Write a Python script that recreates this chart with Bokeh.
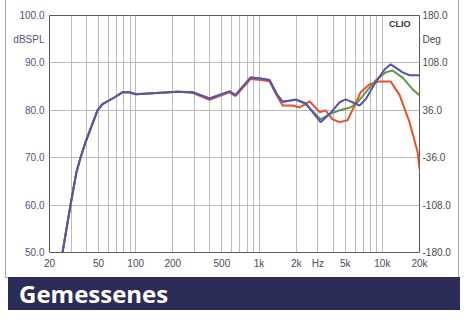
from bokeh.plotting import figure
from bokeh.models import Range1d, LinearAxis, FixedTicker, Label, Div
from bokeh.layouts import column
from bokeh.embed import file_html
from bokeh.resources import INLINE

# ---- data ----
freq_blue = [25.5, 29.6, 33.1, 35.7, 39.2, 49, 53.8, 67, 78, 89, 100, 218, 289, 397, 577, 644,
             853, 1030, 1216, 1400, 1552, 1990, 2384, 3155, 3730, 4500, 5030, 5730, 6530,
             7310, 8810, 10420, 11670, 14600, 16600, 20000]
spl_blue = [50, 60, 67, 70, 73.3, 80, 81.3, 82.7, 83.8, 83.8, 83.4, 83.9, 83.8, 82.5, 84, 83.2,
            86.9, 86.7, 86.4, 83.3, 81.8, 82.3, 81.5, 77.5, 79.2, 81.7, 82.3, 81.7, 81.0,
            82.3, 85.9, 88.6, 89.7, 88.0, 87.4, 87.4]

freq_green = [25.5, 29.6, 33.1, 35.7, 39.2, 49, 53.8, 67, 78, 89, 100, 218, 289, 397, 577, 644,
              853, 1030, 1216, 1400, 1552, 1990, 2384, 3155, 3730, 4500, 5500, 6300, 7310,
              8810, 10620, 12100, 14600, 17600, 20000]
spl_green = [50, 60, 67, 70, 73.3, 80, 81.3, 82.7, 83.8, 83.8, 83.4, 83.9, 83.8, 82.5, 84, 83.2,
             86.9, 86.7, 86.4, 83.3, 81.8, 82.2, 81.3, 78.1, 79.2, 80.0, 80.6, 81.7, 83.8,
             86.3, 88.0, 88.4, 86.9, 84.4, 83.2]

freq_red = [25.5, 29.6, 33.1, 35.7, 39.2, 49, 53.8, 67, 78, 89, 100, 218, 289, 397, 577, 644,
            853, 1030, 1216, 1400, 1552, 1870, 2130, 2384, 2570, 3100, 3460, 3950, 4500, 5220,
            5950, 6660, 7870, 9490, 11670, 13800, 16600, 19300, 20000]
spl_red = [50, 60, 67, 70, 73.3, 80, 81.3, 82.7, 83.8, 83.8, 83.4, 83.9, 83.7, 82.2, 83.8, 83.0,
           86.6, 86.4, 86.1, 83.0, 81.0, 81.0, 80.6, 81.3, 81.9, 79.6, 80.0, 78.1, 77.5, 77.9,
           81.0, 83.8, 85.5, 86.1, 86.1, 83.2, 77.5, 71.2, 67.6]

x_grid_freqs = [20, 30, 40, 50, 60, 70, 80, 90, 100, 200, 300, 400, 500, 600, 700, 800, 900,
                1000, 2000, 3000, 4000, 5000, 6000, 7000, 8000, 9000, 10000, 20000]
x_tick_freqs = [20, 50, 100, 200, 500, 1000, 2000, 3000, 5000, 10000, 20000]
x_tick_labels = ["20", "50", "100", "200", "500", "1k", "2k", "Hz", "5k", "10k", "20k"]
spl_grid = [50, 60, 70, 80, 90, 100]
spl_ticks = [50, 60, 70, 80, 90, 95, 100]
spl_tick_labels = ["50.0", "60.0", "70.0", "80.0", "90.0", "dBSPL", "100.0"]
deg_ticks = [-180, -108, -36, 36, 108, 144, 180]
deg_tick_labels = ["-180.0", "-108.0", "-36.0", "36.0", "108.0", "Deg", "180.0"]
title_text = "Gemessenes"
brand_text = "CLIO"

FONT = "Liberation Sans"

p = figure(width=452, height=277, x_axis_type="log",
           x_range=Range1d(20, 20000), y_range=Range1d(50, 100),
           output_backend="svg", toolbar_location=None,
           min_border_left=43, min_border_right=39, min_border_top=15, min_border_bottom=25,
           background_fill_color="white", border_fill_color="white",
           margin=(0, 0, 0, 6))
p.styles = {"outline": "1px solid #a8a8a8"}
p.outline_line_color = "#5a5a5a"
p.outline_line_width = 1

p.extra_y_ranges = {"deg": Range1d(-180, 180)}

# grids
p.xgrid.ticker = FixedTicker(ticks=x_grid_freqs)
p.ygrid.ticker = FixedTicker(ticks=spl_grid)
p.grid.grid_line_color = "#bcbcbc"
p.grid.grid_line_width = 1

# bottom axis
xa = p.xaxis[0]
xa.ticker = FixedTicker(ticks=x_tick_freqs)
xa.major_label_overrides = {f: l for f, l in zip(x_tick_freqs, x_tick_labels)}
# left axis
ya = p.yaxis[0]
ya.ticker = FixedTicker(ticks=spl_ticks)
ya.major_label_overrides = {t: l for t, l in zip(spl_ticks, spl_tick_labels)}
# right axis
ra = LinearAxis(y_range_name="deg", ticker=FixedTicker(ticks=deg_ticks))
ra.major_label_overrides = {t: l for t, l in zip(deg_ticks, deg_tick_labels)}
p.add_layout(ra, "right")

for ax, col, so in ((xa, "#4d4860", 5), (ya, "#5d4f7d", 5), (ra, "#4a4a4a", 3)):
    ax.axis_line_color = None
    ax.major_tick_line_color = None
    ax.minor_tick_line_color = None
    ax.major_tick_out = 0
    ax.major_tick_in = 0
    ax.minor_tick_out = 0
    ax.minor_tick_in = 0
    ax.major_label_standoff = so
    ax.major_label_text_font = FONT
    ax.major_label_text_font_size = "10px"
    ax.major_label_text_color = col

p.line(freq_red, spl_red, line_color="#e4532c", line_width=2)
p.line(freq_green, spl_green, line_color="#5c9a45", line_width=2)
p.line(freq_blue, spl_blue, line_color="#5e4fb2", line_width=2)

p.add_layout(Label(x=16900, y=99.3, text=brand_text, text_align="right", text_baseline="top",
                   text_font=FONT, text_font_size="9px", text_font_style="bold",
                   text_color="#333333"))

band = Div(text=title_text, width=452, height=33, margin=(0, 0, 0, 8),
           styles={"background-color": "#2b2b57", "color": "white",
                   "font-family": "'Open Sans', sans-serif", "font-weight": "bold",
                   "font-size": "24px", "line-height": "33px", "padding-left": "11px",
                   "box-sizing": "border-box", "overflow": "hidden",
                   "white-space": "nowrap"})

layout = column(p, band, spacing=0)
open("out.html", "w").write(file_html(layout, INLINE))
